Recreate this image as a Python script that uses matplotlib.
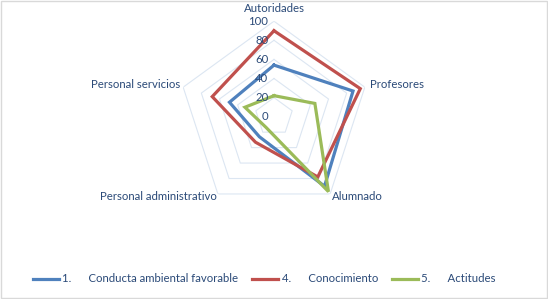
import numpy as np
import matplotlib
matplotlib.use('Agg')
import matplotlib.pyplot as plt

plt.rcParams['font.family'] = ['Lato', 'DejaVu Sans']

categorias = ['Autoridades', 'Profesores', 'Alumnado', 'Personal administrativo', 'Personal servicios']
conducta = [54, 87, 90, 26, 49]
conocimiento = [90, 95, 78, 33, 68]
actitudes = [22, 45, 97, 14, 32]
series_names = ['1.      Conducta ambiental favorable', '4.      Conocimiento', '5.      Actitudes']
ticks = [0, 20, 40, 60, 80, 100]

col_txt = '#2B4A78'
colors = ['#4F81BD', '#C0504D', '#9BBB59']
fs = 8.2

W, H = 548, 299
fig = plt.figure(figsize=(W / 100, H / 100), dpi=100)
cx, cy, R = 274, 116.7, 95.5
ax = fig.add_axes([(cx - R) / W, (H - cy - R) / H, 2 * R / W, 2 * R / H], projection='polar')
ax.set_theta_zero_location('N')
ax.set_theta_direction(-1)
ax.set_ylim(0, 100)
ax.grid(False)
ax.spines['polar'].set_visible(False)
ax.set_xticks([])
ax.set_yticks([])
ax.patch.set_alpha(0)

ang = np.linspace(0, 2 * np.pi, len(categorias), endpoint=False)
ang_c = np.append(ang, ang[0])

# pentagon grid
for t in ticks[1:]:
    ax.plot(ang_c, [t] * len(ang_c), color='#DCE6F2', lw=0.8, zorder=1)

for vals, c, name in zip([conducta, conocimiento, actitudes], colors, series_names):
    ax.plot(ang_c, vals + vals[:1], color=c, lw=2.3, label=name, zorder=3, solid_joinstyle='miter')

# radial labels
for t in ticks:
    ax.annotate(str(t), xy=(0, t), xytext=(-4, 0), textcoords='offset points',
                ha='right', va='center', fontsize=fs, color=col_txt)

# category labels
offs = [((0, 5), 'center', 'bottom'), ((4, 2), 'left', 'center'), ((1, -2), 'left', 'center'),
        ((-1, -2), 'right', 'center'), ((-2, 2), 'right', 'center')]
for a, lab, (o, ha, va) in zip(ang, categorias, offs):
    ax.annotate(lab, xy=(a, 100), xytext=o, textcoords='offset points',
                ha=ha, va=va, fontsize=fs, color=col_txt, annotation_clip=False)

fig.legend(loc='center', bbox_to_anchor=(0.482, 1 - 279 / H), ncol=3, frameon=False,
           fontsize=fs, labelcolor=col_txt, handlelength=2.3, columnspacing=1.2, handletextpad=0.3)

fig.patches.append(plt.Rectangle((0.001, 0.002), 0.997, 0.995, transform=fig.transFigure,
                                 fill=False, edgecolor='#D9D9D9', lw=1))

fig.savefig('out.png', dpi=100)
